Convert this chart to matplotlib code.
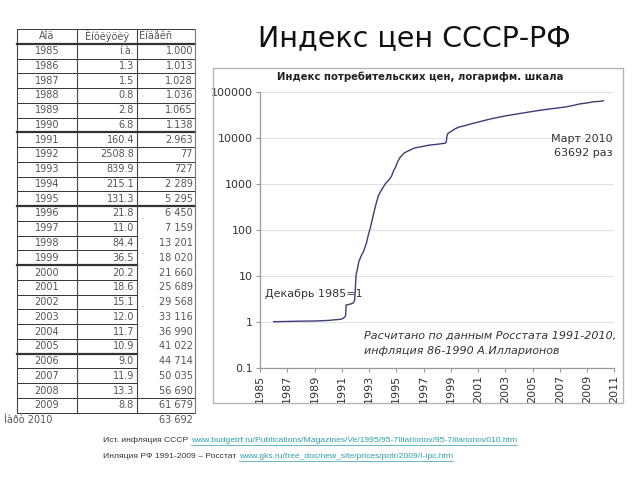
import matplotlib
matplotlib.use("Agg")
import matplotlib.pyplot as plt
from matplotlib.patches import Rectangle
from matplotlib.lines import Line2D
from matplotlib.ticker import FixedLocator, FixedFormatter, NullLocator

# ---------------- data ----------------
table_header = ["Ãîä", "Èíôëÿöèÿ", "Èíäåêñ"]
table_years = [str(y) for y in range(1985, 2010)]
table_inflation = ["í.à.", "1.3", "1.5", "0.8", "2.8", "6.8", "160.4", "2508.8", "839.9",
                   "215.1", "131.3", "21.8", "11.0", "84.4", "36.5", "20.2", "18.6", "15.1",
                   "12.0", "11.7", "10.9", "9.0", "11.9", "13.3", "8.8"]
table_index = ["1.000", "1.013", "1.028", "1.036", "1.065", "1.138", "2.963", "77", "727",
               "2 289", "5 295", "6 450", "7 159", "13 201", "18 020", "21 660", "25 689",
               "29 568", "33 116", "36 990", "41 022", "44 714", "50 035", "56 690", "61 679"]
last_row_label = "Ìàðò 2010"
last_row_index = "63 692"

# CPI curve (decimal year, index, Dec 1985 = 1)
cpi_dates = [1986.0, 1986.5, 1987.0, 1987.5, 1988.0, 1988.5, 1989.0, 1989.5, 1990.0, 1990.5,
             1991.0, 1991.2, 1991.28, 1991.32, 1991.6, 1991.85, 1991.95,
             1992.05, 1992.15, 1992.25, 1992.4, 1992.6, 1992.8, 1992.95,
             1993.1, 1993.3, 1993.5, 1993.7, 1993.95,
             1994.2, 1994.45, 1994.65, 1994.8, 1994.95,
             1995.1, 1995.3, 1995.6, 1995.95,
             1996.3, 1996.6, 1996.95, 1997.3, 1997.6, 1997.95,
             1998.3, 1998.6, 1998.67, 1998.72, 1998.8, 1998.95,
             1999.3, 1999.6, 1999.95, 2000.5, 2000.95, 2001.5, 2001.95,
             2002.5, 2002.95, 2003.5, 2003.95, 2004.5, 2004.95, 2005.5, 2005.95,
             2006.5, 2006.95, 2007.5, 2007.95, 2008.5, 2008.95, 2009.5, 2009.95, 2010.2]
cpi_values = [1.000, 1.006, 1.013, 1.02, 1.028, 1.032, 1.036, 1.05, 1.065, 1.10,
              1.138, 1.25, 1.35, 2.3, 2.4, 2.55, 2.963,
              10.5, 14, 20, 26, 34, 50, 77,
              110, 200, 350, 560, 760,
              1000, 1200, 1450, 1900, 2289,
              3000, 3800, 4700, 5295,
              5900, 6200, 6450, 6800, 7000, 7159,
              7400, 7600, 8000, 11000, 12500, 13201,
              15500, 17000, 18020, 20000, 21660, 23800, 25689,
              27800, 29568, 31500, 33116, 35200, 36990, 39300, 41022,
              43000, 44714, 47000, 50035, 54500, 56690, 60500, 61679, 63692]

y_ticks = [0.1, 1, 10, 100, 1000, 10000, 100000]
y_tick_labels = ["0.1", "1", "10", "100", "1000", "10000", "100000"]
x_ticks = list(range(1985, 2012, 2))

W, H = 640, 480
fig = plt.figure(figsize=(6.4, 4.8), dpi=100)
fig.patch.set_facecolor("white")


def fx(x):
    return x / W


def fy(y):
    return 1 - y / H


# ---------------- slide title ----------------
fig.text(fx(414), fy(38), "Индекс цен СССР-РФ", fontsize=20.5, family="DejaVu Sans",
         ha="center", va="center", color="#111111")

# ---------------- table ----------------
t_top = 29.0
row_h = 14.76
col_x = [17, 77, 137, 195]
n_rows = 26  # header + 25 years
tcol = "#555555"
tfs = 7

for i in range(n_rows + 1):
    y = t_top + i * row_h
    thick = i in (1, 7, 12, 16, 22)
    lw = 1.6 if thick else 0.7
    if 12 < i < 25:
        xe = col_x[2]
    else:
        xe = col_x[3]
    fig.add_artist(Line2D([fx(col_x[0]), fx(xe)], [fy(y), fy(y)], transform=fig.transFigure,
                          color="#333333", lw=lw))
for j, x in enumerate(col_x):
    y_end = t_top + n_rows * row_h
    fig.add_artist(Line2D([fx(x), fx(x)], [fy(t_top), fy(y_end)], transform=fig.transFigure,
                          color="#777777" if j == 3 else "#444444", lw=0.8))


def row_c(i):
    return t_top + (i + 0.5) * row_h


fig.text(fx(47), fy(row_c(0)), table_header[0], fontsize=tfs, ha="center", va="center", color=tcol)
fig.text(fx(107), fy(row_c(0)), table_header[1], fontsize=tfs, ha="center", va="center", color=tcol)
fig.text(fx(139), fy(row_c(0)), table_header[2], fontsize=tfs, ha="left", va="center", color=tcol)
for k in range(len(table_years)):
    yc = fy(row_c(k + 1))
    fig.text(fx(47), yc, table_years[k], fontsize=tfs, ha="center", va="center", color=tcol)
    fig.text(fx(134), yc, table_inflation[k], fontsize=tfs, ha="right", va="center", color=tcol)
    fig.text(fx(193), yc, table_index[k], fontsize=tfs, ha="right", va="center", color=tcol)
fig.text(fx(4), fy(row_c(26)), last_row_label, fontsize=tfs, ha="left", va="center", color=tcol)
fig.text(fx(193), fy(row_c(26)), last_row_index, fontsize=tfs, ha="right", va="center", color=tcol)

# ---------------- chart frame ----------------
fig.add_artist(Rectangle((fx(213), fy(403)), fx(623) - fx(213), fy(68) - fy(403),
                         transform=fig.transFigure, fill=False, edgecolor="#b5b5b5", lw=1.0))

ax = fig.add_axes([fx(260), fy(367.7), fx(614.3) - fx(260), fy(91.7) - fy(367.7)])
ax.plot(cpi_dates, cpi_values, color="#3d3d78", lw=1.0)
ax.set_yscale("log")
ax.set_ylim(0.1, 100000)
ax.set_xlim(1985, 2011)
ax.yaxis.set_major_locator(FixedLocator(y_ticks))
ax.yaxis.set_major_formatter(FixedFormatter(y_tick_labels))
ax.yaxis.set_minor_locator(NullLocator())
ax.set_xticks(x_ticks)
ax.set_xticklabels([str(x) for x in x_ticks], rotation=90)
ax.tick_params(axis="both", labelsize=8, colors="#333333", length=3, width=0.8, pad=2)
ax.tick_params(axis="x", color="#999999")
ax.tick_params(axis="y", color="#999999")
for s in ("top", "right"):
    ax.spines[s].set_visible(False)
for s in ("left", "bottom"):
    ax.spines[s].set_color("#999999")
    ax.spines[s].set_linewidth(0.9)
ax.grid(axis="y", color="#e2e2e2", lw=0.8)
ax.set_axisbelow(True)

fig.text(fx(420), fy(77), "Индекс потребительских цен, логарифм. шкала", fontsize=7.3,
         fontweight="bold", ha="center", va="center", color="#222222")
fig.text(fx(613), fy(139), "Март 2010", fontsize=8, ha="right", va="center", color="#333333")
fig.text(fx(613), fy(153), "63692 раз", fontsize=8, ha="right", va="center", color="#333333")
fig.text(fx(265), fy(294), "Декабрь 1985=1", fontsize=8, ha="left", va="center", color="#333333")
fig.text(fx(364), fy(336), "Расчитано по данным Росстата 1991-2010,", fontsize=8,
         style="italic", ha="left", va="center", color="#333333")
fig.text(fx(364), fy(351), "инфляция 86-1990 А.Илларионов", fontsize=8,
         style="italic", ha="left", va="center", color="#333333")

# ---------------- footnotes ----------------
ffs = 6.1
link_col = "#2aa0a8"
notes = [
    (440, "Ист. инфляция СССР ",
     "www.budgetrf.ru/Publications/Magazines/Ve/1995/95-7Illarionov/95-7illarionov010.htm"),
    (456, "Инляция РФ 1991-2009 – Росстат ",
     "www.gks.ru/free_doc/new_site/prices/potr/2009/I-ipc.htm"),
]
fig.canvas.draw()
renderer = fig.canvas.get_renderer()
for y, plain, link in notes:
    t1 = fig.text(fx(103), fy(y), plain, fontsize=ffs, family="Liberation Sans",
                  ha="left", va="center", color="#333333")
    bb = t1.get_window_extent(renderer)
    x_link = bb.x1
    t2 = fig.text(x_link / fig.bbox.width, fy(y), link, fontsize=ffs, family="Liberation Sans",
                  ha="left", va="center", color=link_col)
    bb2 = t2.get_window_extent(renderer)
    uy = fy(y + 4.5)
    fig.add_artist(Line2D([bb2.x0 / fig.bbox.width, bb2.x1 / fig.bbox.width], [uy, uy],
                          transform=fig.transFigure, color=link_col, lw=0.5))

fig.savefig("out.png", dpi=100)
